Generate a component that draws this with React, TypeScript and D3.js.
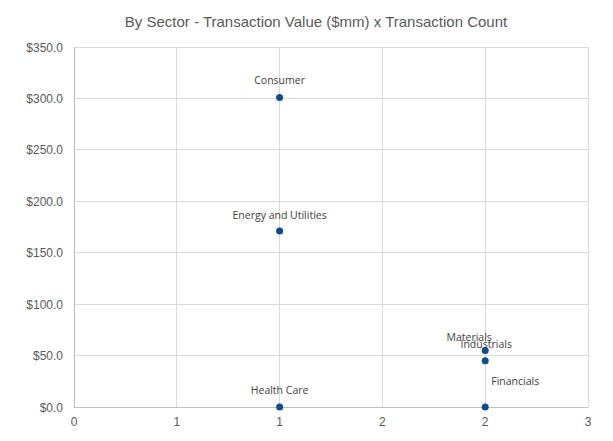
import React from "react";
import * as d3 from "d3";

const sectors = ["Consumer", "Energy and Utilities", "Health Care", "Materials", "Industrials", "Financials"];
const transactionCount = [1, 1, 1, 2, 2, 2];
const transactionValue = [301, 171, 0, 55, 45, 0];
const xTicks = [0, 0.5, 1, 1.5, 2, 2.5];
const yTicks = [0, 50, 100, 150, 200, 250, 300, 350];
// label offsets (dx, dy from point), styling only
const labelDx = [0, 0, 0, -16, 1, 30];
const labelDy = [-13, -12, -13, -9, -13, -22];

const W = 613, H = 441;
const M = { left: 74, right: 25, top: 47, bottom: 34 };

export default function App() {
  const x = d3.scaleLinear().domain([0, 2.5]).range([M.left, W - M.right]);
  const y = d3.scaleLinear().domain([0, 350]).range([H - M.bottom, M.top]);
  const fmtX = (v: number) => d3.format(".0f")(Math.round(v + 1e-9));
  const fmtY = (v: number) => "$" + d3.format(".1f")(v);
  return (
    <div style={{ position: "fixed", left: 0, top: 0 }}>
      <svg width={W} height={H} style={{ display: "block", background: "#fff" }}>
        <text x={316} y={27} textAnchor="middle" fontFamily="Liberation Sans, Arial, sans-serif" fontSize={15} fill="#595959">
          By Sector - Transaction Value ($mm) x Transaction Count
        </text>
        {yTicks.map((t) => (
          <line key={"gy" + t} x1={x(0)} x2={x(2.5)} y1={y(t)} y2={y(t)} stroke={t === 0 ? "#bfbfbf" : "#d9d9d9"} strokeWidth={1} shapeRendering="crispEdges" />
        ))}
        {xTicks.map((t) => (
          <line key={"gx" + t} x1={x(t)} x2={x(t)} y1={y(0)} y2={y(350)} stroke={t === 0 ? "#bfbfbf" : "#d9d9d9"} strokeWidth={1} shapeRendering="crispEdges" />
        ))}
        {yTicks.map((t) => (
          <text key={"ty" + t} x={x(0) - 11} y={y(t) + 4.5} textAnchor="end" fontFamily="Liberation Sans, Arial, sans-serif" fontSize={12} fill="#595959">
            {fmtY(t)}
          </text>
        ))}
        {xTicks.map((t) => (
          <text key={"tx" + t} x={x(t)} y={y(0) + 19} textAnchor="middle" fontFamily="Liberation Sans, Arial, sans-serif" fontSize={12} fill="#595959">
            {fmtX(t)}
          </text>
        ))}
        {sectors.map((s, i) => (
          <circle key={"p" + s} cx={x(transactionCount[i])} cy={y(transactionValue[i])} r={3.5} fill="#0f4c88" />
        ))}
        {sectors.map((s, i) => (
          <text key={"l" + s} x={x(transactionCount[i]) + labelDx[i]} y={y(transactionValue[i]) + labelDy[i]} textAnchor="middle" fontFamily="Open Sans, sans-serif" fontSize={10.5} fill="#404040">
            {s}
          </text>
        ))}
      </svg>
    </div>
  );
}
